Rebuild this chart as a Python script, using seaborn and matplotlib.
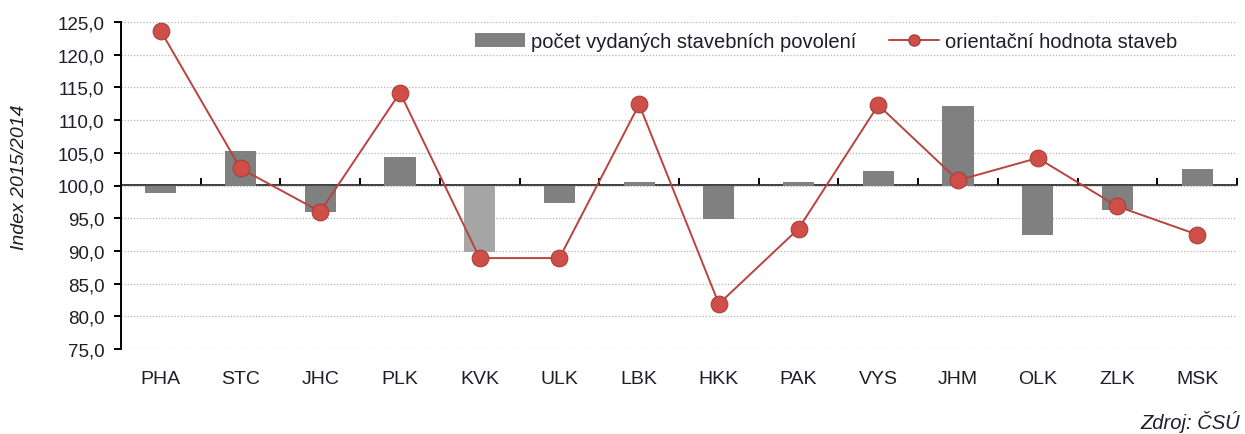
import numpy as np
import pandas as pd
import matplotlib
matplotlib.use("Agg")
import matplotlib.pyplot as plt
import seaborn as sns
from matplotlib.lines import Line2D
from matplotlib.patches import Patch
from matplotlib.ticker import FuncFormatter, MultipleLocator

categories = ["PHA", "STC", "JHC", "PLK", "KVK", "ULK", "LBK", "HKK", "PAK", "VYS", "JHM", "OLK", "ZLK", "MSK"]
permits = [98.8, 105.2, 95.9, 104.3, 89.9, 97.3, 100.6, 94.9, 100.6, 102.2, 112.2, 92.5, 96.2, 102.5]
value_index = [123.6, 102.6, 96.0, 114.2, 88.9, 88.9, 112.4, 81.9, 93.4, 112.3, 100.8, 104.2, 96.8, 92.5]
bar_label = "počet vydaných stavebních povolení"
line_label = "orientační hodnota staveb"
y_label = "Index 2015/2014"
source = "Zdroj: ČSÚ"
baseline = 100.0

sns.set_theme(style="white")
plt.rcParams["font.family"] = ["Liberation Sans", "DejaVu Sans"]

df = pd.DataFrame({"kraj": categories, "permits": permits, "value": value_index})
df["delta"] = df["permits"] - baseline

bar_col = "#808080"
hi_col = "#a6a6a6"
palette = {c: (hi_col if c == "KVK" else bar_col) for c in categories}
line_col = "#b9433f"
mk_face = "#cf4f48"
text_col = "#1e1e28"

fig = plt.figure(figsize=(12.45, 4.35), dpi=100)
ax = fig.add_axes([121/1245, 1 - 350/435, (1237 - 121)/1245, (350 - 23)/435])

sns.barplot(data=df, x="kraj", y="delta", hue="kraj", palette=palette, legend=False,
            bottom=baseline, width=0.39, ax=ax, zorder=2, linewidth=0)
sns.lineplot(data=df, x="kraj", y="value", ax=ax, color=line_col, linewidth=1.4,
             marker="o", markersize=12, markerfacecolor=mk_face, markeredgecolor="#a8403b",
             markeredgewidth=0.8, zorder=4, sort=False)

ax.set_xlim(-0.5, len(categories) - 0.5)
ax.set_ylim(75, 125)
ax.yaxis.set_major_locator(MultipleLocator(5))
ax.yaxis.set_major_formatter(FuncFormatter(lambda v, p: f"{v:.1f}".replace(".", ",")))
ax.grid(axis="y", linestyle=(0, (1, 1.5)), color="#b5b5b5", linewidth=0.9, zorder=0)
ax.set_axisbelow(True)
ax.set_xlabel("")
ax.set_ylabel("")

for s in ["top", "right", "bottom"]:
    ax.spines[s].set_visible(False)
ax.spines["left"].set_color("black")
ax.spines["left"].set_linewidth(1.4)

ax.tick_params(axis="y", direction="out", length=5, width=1.4, color="black",
               labelsize=13.5, labelcolor=text_col, pad=7, left=True)
ax.tick_params(axis="x", length=0, labelsize=14, labelcolor=text_col, pad=15)

# axis line at baseline 100 with category-boundary ticks
sec = ax.secondary_xaxis((baseline - 75) / 50)
sec.set_xticks(np.arange(0.5, len(categories), 1.0))
sec.set_xticklabels([])
sec.tick_params(axis="x", direction="out", length=5, width=1.4, color="black")
sec.spines["bottom"].set_color("black")
sec.spines["bottom"].set_linewidth(1.4)

handles = [Patch(facecolor=bar_col, edgecolor="none", label=bar_label),
           Line2D([0], [0], color=line_col, linewidth=1.4, marker="o", markersize=8,
                  markerfacecolor=mk_face, markeredgecolor="#a8403b", label=line_label)]
leg = ax.legend(handles=handles, loc="upper left", bbox_to_anchor=(0.317, 0.970), ncol=2,
                frameon=False, fontsize=14.5, handlelength=2.5, handleheight=0.7,
                columnspacing=1.6, handletextpad=0.3, borderpad=0, borderaxespad=0)
for t in leg.get_texts():
    t.set_color(text_col)

fig.text(20/1245, 1 - 177/435, y_label, rotation=90, ha="center", va="center",
         fontsize=14, style="italic", color=text_col)
fig.text(1240/1245, 1 - 429/435, source, ha="right", va="baseline",
         fontsize=14.5, style="italic", color=text_col)

fig.savefig("out.png", dpi=100)
